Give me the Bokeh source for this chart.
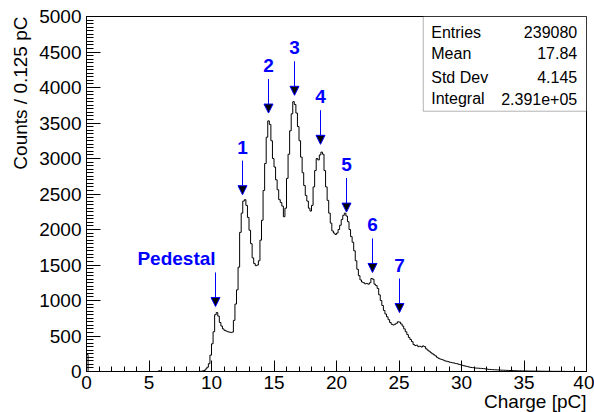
import numpy as np
from bokeh.plotting import figure
from bokeh.models import (Range1d, FixedTicker, Label, BoxAnnotation, Arrow,
                          NormalHead, ColumnDataSource, Title)
from bokeh.core.properties import value
from bokeh.embed import file_html
from bokeh.resources import INLINE

# ---------------- data ----------------
bin_width = 0.125
x_lo, x_hi = 0.0, 40.0

# counts per 0.125 pC bin, 0 .. 9 pC
counts_0_9 = [
    240, 0, 0, 0, 0, 0, 0, 0,
    0, 0, 0, 0, 0, 0, 0, 0,
    0, 0, 0, 0, 0, 0, 0, 0,
    0, 0, 0, 0, 0, 0, 0, 0,
    0, 0, 0, 0, 0, 0, 0, 0,
    0, 0, 0, 0, 0, 0, 10, 6,
    0, 0, 0, 0, 0, 0, 0, 0,
    0, 0, 0, 0, 0, 0, 0, 0,
    0, 0, 0, 0, 1, 0, 1, 0,
]
# counts per 0.125 pC bin, 9 .. 40 pC
counts_9_40 = [
    2, 4, 8, 15, 35, 60, 110, 230,              # 9
    390, 560, 800, 830, 780, 690, 640, 600,     # 10
    580, 570, 560, 555, 550, 555, 720, 950,     # 11
    1150, 1470, 1960, 2230, 2400, 2420, 2340, 2170,   # 12
    1990, 1800, 1600, 1520, 1490, 1500, 1560, 1850,   # 13
    2130, 2550, 2930, 3300, 3530, 3480, 3250, 3000,   # 14
    2880, 2700, 2560, 2420, 2380, 2330, 2180, 2300,   # 15
    2720, 3060, 3390, 3630, 3800, 3760, 3640, 3450,   # 16
    3250, 3020, 2800, 2620, 2480, 2400, 2300, 2260,   # 17
    2340, 2600, 2830, 3000, 2980, 3050, 3090, 3060,   # 18
    2830, 2600, 2410, 2230, 2090, 1980, 1950, 1930,   # 19
    1950, 2000, 2060, 2140, 2200, 2230, 2190, 2110,   # 20
    2000, 1900, 1820, 1700, 1560, 1440, 1350, 1290,   # 21
    1260, 1250, 1235, 1240, 1230, 1250, 1310, 1300,   # 22
    1230, 1210, 1170, 1080, 1000, 930, 860, 810,      # 23
    770, 730, 690, 665, 655, 665, 680, 700,           # 24
    695, 670, 640, 600, 560, 520, 480, 450,           # 25
    420, 380, 365, 370, 350, 355, 345, 360,           # 26
    350, 320, 300, 285, 265, 250, 235, 220,           # 27
    200, 185, 175, 170, 160, 150, 145, 138,           # 28
    132, 128, 122, 118, 112, 108, 100, 95,            # 29
    88, 82, 76, 72, 66, 60, 56, 54,                   # 30
    50, 48, 47, 45, 44, 42, 40, 36,                   # 31
    34, 30, 28, 27, 25, 24, 23, 22,                   # 32
    20, 19, 18, 17, 16, 15, 14, 14,                   # 33
    13, 12, 12, 11, 10, 10, 9, 9,                     # 34
    8, 8, 7, 7, 6, 6, 6, 5,                           # 35
    5, 5, 4, 4, 4, 3, 3, 3,                           # 36
    3, 3, 2, 2, 2, 2, 2, 1,                           # 37
    1, 2, 1, 1, 1, 1, 0, 1,                           # 38
    1, 0, 1, 0, 0, 1, 0, 0,                           # 39
]

x_ticks = [0, 5, 10, 15, 20, 25, 30, 35, 40]
y_ticks = [0, 500, 1000, 1500, 2000, 2500, 3000, 3500, 4000, 4500, 5000]
x_title = "Charge [pC]"
y_title = "Counts / 0.125 pC"

peak_names = ["Pedestal", "1", "2", "3", "4", "5", "6", "7"]
peak_x = [10.32, 12.48, 14.56, 16.64, 18.72, 20.80, 22.88, 25.04]
peak_tip = [915, 2490, 3640, 3890, 3200, 2245, 1395, 830]
label_x = [7.2, 12.48, 14.56, 16.64, 18.72, 20.80, 22.88, 25.04]

stat_names = ["Entries", "Mean", "Std Dev", "Integral"]
stat_values = ["239080", "17.84", "4.145", "2.391e+05"]

# ---------------- figure ----------------
FONT = "Liberation Sans"
counts = np.array(counts_0_9 + counts_9_40, dtype=float)
edges = np.linspace(x_lo, x_hi, len(counts) + 1)

p = figure(width=594, height=412, output_backend="svg", toolbar_location=None,
           x_range=Range1d(x_lo, x_hi), y_range=Range1d(0, 5000),
           min_border_left=86, min_border_right=8, min_border_top=16,
           min_border_bottom=41)
p.background_fill_color = "white"
p.border_fill_color = "white"
p.outline_line_color = "black"
p.outline_line_width = 1
p.xgrid.visible = False
p.ygrid.visible = False

minor_x = [float(v) for v in range(0, 41)]
minor_y = [float(v) for v in range(0, 5001, 50)]
p.xaxis.ticker = FixedTicker(ticks=x_ticks, minor_ticks=minor_x)
p.yaxis.ticker = FixedTicker(ticks=y_ticks, minor_ticks=minor_y)
for ax, maj, mnr in ((p.xaxis, 11, 5), (p.yaxis, 14, 7)):
    ax.major_tick_in = maj
    ax.major_tick_out = 0
    ax.minor_tick_in = mnr
    ax.minor_tick_out = 0
    ax.axis_line_color = "black"
    ax.major_tick_line_color = "black"
    ax.minor_tick_line_color = "black"
    ax.major_label_text_font = FONT
    ax.major_label_text_font_size = "19px"
    ax.major_label_text_color = "black"
p.xaxis.major_label_standoff = 4
p.yaxis.major_label_standoff = 5

# axis titles (right/top aligned, ROOT style)
p.add_layout(Title(text=x_title, align="right", text_font=FONT,
                   text_font_size="19px", text_font_style="normal",
                   text_color="black", standoff=-5), "below")
p.add_layout(Title(text=y_title, align="right", text_font=FONT,
                   text_font_size="19px", text_font_style="normal",
                   text_color="black", standoff=12), "left")

# histogram outline
hx = np.concatenate([[edges[0]], np.repeat(edges, 2)[1:-1], [edges[-1]]])
hy = np.concatenate([[0.0], np.repeat(counts, 2), [0.0]])
p.line(hx, hy, line_color="black", line_width=1)

# peak arrows and labels
tail = [t + 480 for t in peak_tip]
lab_y = [t + 670 for t in peak_tip]
src = ColumnDataSource(dict(x=peak_x, tip=peak_tip, tail=tail))
p.add_layout(Arrow(source=src, x_start="x", y_start="tail", x_end="x", y_end="tip",
                   line_color="blue", line_width=1,
                   end=NormalHead(size=9, fill_color="black", line_color="blue",
                                  line_width=1)))
p.text(x=label_x, y=lab_y, text=peak_names, text_font=value(FONT),
       text_font_style="bold", text_font_size="19px", text_color="blue",
       text_align="center", text_baseline="middle")

# stats box
p.add_layout(BoxAnnotation(left=26.94, right=40, top=5000, bottom=3666,
                           fill_color="white", fill_alpha=1.0,
                           line_color="black", line_width=1))
row_y = [4779, 4479, 4145, 3845]
for nm, val, yy in zip(stat_names, stat_values, row_y):
    p.add_layout(Label(x=27.58, y=yy, text=nm, text_align="left",
                       text_baseline="middle", text_font=FONT,
                       text_font_size="16px", text_color="black"))
    p.add_layout(Label(x=39.26, y=yy, text=val, text_align="right",
                       text_baseline="middle", text_font=FONT,
                       text_font_size="16px", text_color="black"))

open("out.html", "w").write(file_html(p, INLINE))
